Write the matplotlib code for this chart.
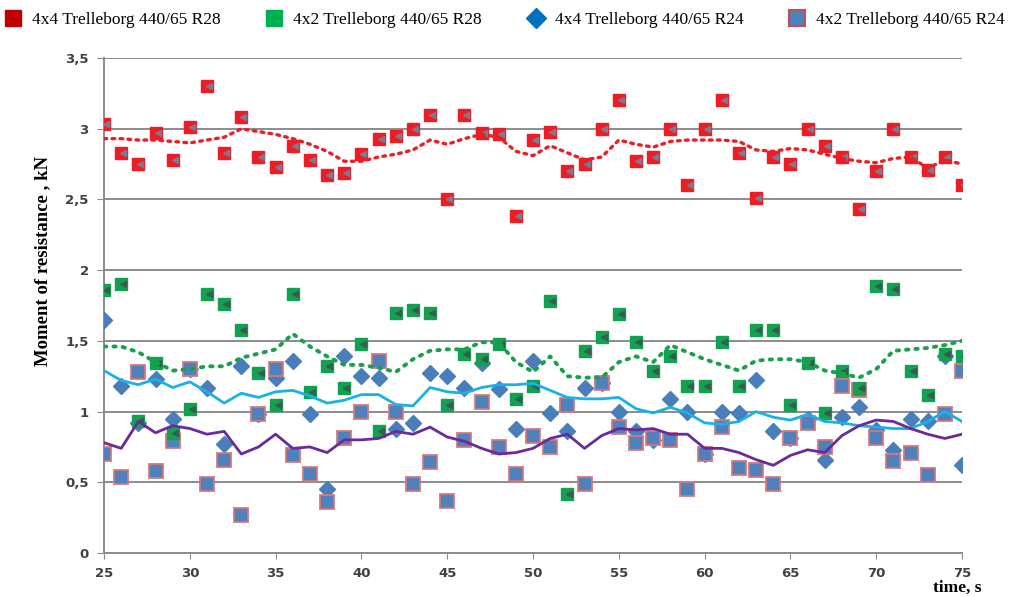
import numpy as np
import matplotlib
matplotlib.use("Agg")
import matplotlib.pyplot as plt
from matplotlib.lines import Line2D

plt.rcParams["font.family"] = ["Liberation Serif", "DejaVu Serif"]

time_s = list(range(25, 76))

# measured moment of resistance, kN
r28_4x4 = [3.03, 2.83, 2.75, 2.97, 2.78, 3.01, 3.30, 2.83, 3.08, 2.80,
           2.73, 2.88, 2.78, 2.67, 2.69, 2.82, 2.93, 2.95, 3.00, 3.10,
           2.50, 3.10, 2.97, 2.96, 2.38, 2.92, 2.98, 2.70, 2.75, 3.00,
           3.20, 2.77, 2.80, 3.00, 2.60, 3.00, 3.20, 2.83, 2.51, 2.80,
           2.75, 3.00, 2.88, 2.80, 2.43, 2.70, 3.00, 2.80, 2.71, 2.80,
           2.60]
r28_4x2 = [1.86, 1.90, 0.93, 1.34, 0.85, 1.02, 1.83, 1.76, 1.58, 1.27,
           1.05, 1.83, 1.14, 1.32, 1.17, 1.48, 0.86, 1.70, 1.72, 1.70,
           1.05, 1.41, 1.37, 1.48, 1.09, 1.18, 1.78, 0.42, 1.43, 1.53,
           1.69, 1.49, 1.29, 1.39, 1.18, 1.18, 1.49, 1.18, 1.58, 1.58,
           1.05, 1.34, 0.99, 1.29, 1.17, 1.89, 1.87, 1.29, 1.12, 1.41,
           1.39]
r24_4x4 = [1.65, 1.18, 0.92, 1.23, 0.95, 1.30, 1.17, 0.77, 1.32, 0.98,
           1.24, 1.36, 0.98, 0.45, 1.39, 1.25, 1.24, 0.88, 0.92, 1.27,
           1.25, 1.17, 1.34, 1.16, 0.88, 1.36, 0.99, 0.86, 1.17, 1.20,
           1.00, 0.86, 0.80, 1.09, 1.00, 0.70, 1.00, 0.99, 1.22, 0.86,
           0.81, 0.95, 0.66, 0.96, 1.03, 0.87, 0.73, 0.95, 0.93, 1.39,
           0.62]
r24_4x2 = [0.70, 0.54, 1.28, 0.58, 0.79, 1.30, 0.49, 0.66, 0.27, 0.98,
           1.30, 0.69, 0.56, 0.36, 0.81, 1.00, 1.36, 1.00, 0.49, 0.64,
           0.37, 0.80, 1.07, 0.75, 0.56, 0.83, 0.75, 1.05, 0.49, 1.20,
           0.89, 0.78, 0.81, 0.80, 0.45, 0.70, 0.89, 0.60, 0.59, 0.49,
           0.81, 0.92, 0.75, 1.18, 1.15, 0.81, 0.65, 0.71, 0.55, 0.98,
           1.29]

# moving-average trend lines
trend_r28_4x4 = [2.93, 2.93, 2.92, 2.92, 2.91, 2.90, 2.92, 2.94, 3.00, 2.98,
                 2.96, 2.93, 2.89, 2.84, 2.77, 2.77, 2.80, 2.82, 2.85, 2.92,
                 2.89, 2.93, 2.96, 2.94, 2.84, 2.81, 2.88, 2.83, 2.78, 2.80,
                 2.92, 2.89, 2.87, 2.91, 2.92, 2.92, 2.92, 2.91, 2.85, 2.84,
                 2.86, 2.85, 2.82, 2.79, 2.77, 2.76, 2.79, 2.80, 2.72, 2.78,
                 2.75]
trend_r28_4x2 = [1.46, 1.46, 1.42, 1.35, 1.29, 1.30, 1.32, 1.32, 1.38, 1.41,
                 1.44, 1.55, 1.46, 1.39, 1.33, 1.33, 1.31, 1.28, 1.37, 1.43,
                 1.44, 1.44, 1.49, 1.49, 1.35, 1.28, 1.39, 1.25, 1.24, 1.24,
                 1.35, 1.39, 1.35, 1.47, 1.42, 1.37, 1.33, 1.29, 1.36, 1.37,
                 1.37, 1.35, 1.29, 1.27, 1.24, 1.30, 1.43, 1.44, 1.45, 1.47,
                 1.50]
trend_r24_4x4 = [1.29, 1.22, 1.19, 1.23, 1.17, 1.21, 1.14, 1.06, 1.13, 1.10,
                 1.14, 1.15, 1.11, 1.06, 1.08, 1.12, 1.12, 1.05, 1.04, 1.17,
                 1.14, 1.13, 1.17, 1.19, 1.19, 1.20, 1.15, 1.10, 1.09, 1.09,
                 1.10, 1.02, 0.99, 1.03, 0.99, 0.92, 0.91, 0.93, 1.00, 0.96,
                 0.94, 0.98, 0.93, 0.92, 0.90, 0.89, 0.88, 0.88, 0.93, 1.00,
                 0.93]
trend_r24_4x2 = [0.78, 0.74, 0.93, 0.85, 0.90, 0.88, 0.84, 0.86, 0.70, 0.75,
                 0.84, 0.74, 0.75, 0.71, 0.80, 0.80, 0.81, 0.86, 0.84, 0.89,
                 0.82, 0.79, 0.74, 0.70, 0.71, 0.74, 0.81, 0.84, 0.74, 0.83,
                 0.88, 0.87, 0.88, 0.84, 0.84, 0.74, 0.74, 0.71, 0.66, 0.62,
                 0.69, 0.73, 0.71, 0.83, 0.90, 0.94, 0.93, 0.88, 0.84, 0.81,
                 0.84]

labels = ["4x4 Trelleborg 440/65 R28", "4x2 Trelleborg 440/65 R28",
          "4x4 Trelleborg 440/65 R24", "4x2 Trelleborg 440/65 R24"]

RED = "#ee1c24"
GREEN = "#12a150"
DIAMOND = "#4a7ebb"
SQ_BLUE = "#4f81bd"
SQ_EDGE = "#d9777a"
AXIS_GREY = "#8c8c8c"

fig = plt.figure(figsize=(10.23, 5.97), dpi=100)
ax = fig.add_axes([0.1017, 0.0737, 0.8387, 0.8291])

# scatter markers
ax.plot(time_s, r24_4x4, ls="none", marker="D", ms=8, mfc=DIAMOND,
        mec=DIAMOND, zorder=3)
ax.plot(time_s, r24_4x2, ls="none", marker="s", ms=10, mfc=SQ_BLUE,
        mec=SQ_EDGE, mew=1.3, zorder=3)
ax.plot(time_s, r28_4x2, ls="none", marker="s", ms=8.5, mfc=GREEN,
        mec=GREEN, zorder=3)
ax.plot(time_s, r28_4x4, ls="none", marker="s", ms=8.5, mfc=RED,
        mec=RED, zorder=3)
# small grey glyph inside the red and green markers
ax.plot(np.array(time_s) + 0.12, r28_4x2, ls="none", marker="<", ms=4,
        mfc="#3c5a50", mec="#3c5a50", zorder=4)
ax.plot(np.array(time_s) + 0.12, r28_4x4, ls="none", marker="<", ms=4,
        mfc="#7a7a90", mec="#7a7a90", zorder=4)

# trend lines
ax.plot(time_s, trend_r28_4x4, color=RED, lw=2.4, ls=(0, (0.8, 1.6)),
        dash_capstyle="round", zorder=5)
ax.plot(time_s, trend_r28_4x2, color="#1aa04a", lw=2.8, ls=(0, (0.6, 1.8)),
        dash_capstyle="round", zorder=5)
ax.plot(time_s, trend_r24_4x4, color="#1ab0e8", lw=2.0, zorder=5)
ax.plot(time_s, trend_r24_4x2, color="#6a2a9a", lw=2.0, zorder=5)

ax.set_xlim(25, 75)
ax.set_ylim(0, 3.5)
ax.set_xticks(range(25, 76, 5))
yticks = np.arange(0, 3.51, 0.5)
ax.set_yticks(yticks)
ax.set_yticklabels([f"{v:g}".replace(".", ",") for v in yticks])
ax.grid(axis="y", color=AXIS_GREY, lw=1.4, zorder=0)
ax.set_axisbelow(True)
for side in ("top", "right"):
    ax.spines[side].set_visible(False)
for side in ("left", "bottom"):
    ax.spines[side].set_color(AXIS_GREY)
    ax.spines[side].set_linewidth(1.4)
ax.tick_params(axis="y", length=5, color=AXIS_GREY, labelsize=9.5, pad=6,
               labelcolor="#404040")
ax.tick_params(axis="x", length=4, color=AXIS_GREY, labelsize=9.5, pad=6,
               labelcolor="#404040")
for lbl in ax.get_xticklabels() + ax.get_yticklabels():
    lbl.set_fontweight("bold")
    lbl.set_family("DejaVu Sans")

ax.set_ylabel("Moment of resistance , kN", fontsize=13.5, fontweight="bold")
ax.yaxis.set_label_coords(-0.061, 0.59)
ax.text(0.9945, -0.07, "time, s", transform=ax.transAxes, ha="center",
        va="center", fontsize=12.5, fontweight="bold")

handles = [
    Line2D([], [], ls="none", marker="s", ms=11, mfc="#c00000", mec="#c00000"),
    Line2D([], [], ls="none", marker="s", ms=11, mfc="#00b050", mec="#00b050"),
    Line2D([], [], ls="none", marker="D", ms=10, mfc="#0070c0", mec="#0070c0"),
    Line2D([], [], ls="none", marker="s", ms=11, mfc=SQ_BLUE, mec="#c0504d",
           mew=1.5),
]
fig.legend(handles, labels, loc="upper left", bbox_to_anchor=(-0.008, 1.0),
           ncol=4, frameon=False, fontsize=12.5, handlelength=1.0,
           handletextpad=0.6, columnspacing=2.6, borderaxespad=0.3)

fig.savefig("out.png", dpi=100)
